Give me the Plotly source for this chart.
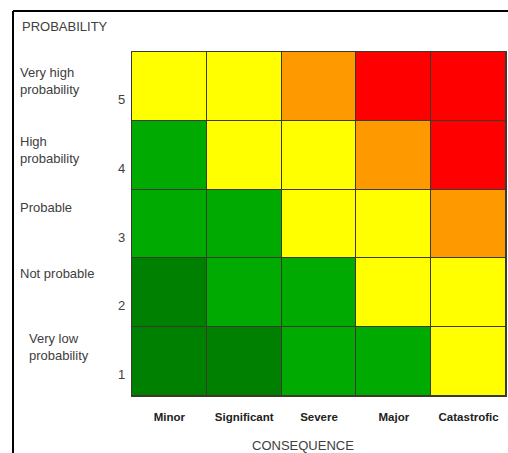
import plotly.graph_objects as go

consequences = ["Minor", "Significant", "Severe", "Major", "Catastrofic"]
probability_levels = [1, 2, 3, 4, 5]
probability_names = ["Very low<br>probability", "Not probable", "Probable",
                     "High<br>probability", "Very high<br>probability"]
# risk level per cell: 0 dark green, 1 green, 2 yellow, 3 orange, 4 red
# rows ordered from probability 1 (bottom) to 5 (top)
risk = [
    [0, 0, 1, 1, 2],
    [0, 1, 1, 2, 2],
    [1, 1, 2, 2, 3],
    [1, 2, 2, 3, 4],
    [2, 2, 3, 4, 4],
]
risk_colors = ["#008000", "#00AA00", "#FFFF00", "#FF9900", "#FF0000"]

n = len(risk_colors)
colorscale = []
for i, c in enumerate(risk_colors):
    colorscale.append([i / n, c])
    colorscale.append([(i + 1) / n, c])

W, H = 508, 453
L, T = 132, 52
R = W - 506
B = H - 396
pw, ph = W - L - R, H - T - B


def px_x(sx):
    return (sx - L) / pw


def px_y(sy):
    return 1 - (sy - T) / ph


fig = go.Figure(go.Heatmap(
    x=consequences, y=probability_levels, z=risk,
    zmin=-0.5, zmax=n - 0.5, colorscale=colorscale,
    showscale=False, xgap=1, ygap=1, hoverinfo="skip",
))

font = "Liberation Sans, Arial, sans-serif"
txt = "#404040"

ann = []
for lvl in probability_levels:
    ann.append(dict(x=px_x(127), xref="paper", y=lvl, yref="y", yshift=-13,
                    text=str(lvl), showarrow=False, xanchor="right",
                    font=dict(family=font, size=13, color=txt)))
name_x = [27, 18, 18, 18, 18]
name_shift = [15, 19, 17, 5, 5]
for lvl, name, nx, sh in zip(probability_levels, probability_names, name_x, name_shift):
    ann.append(dict(x=px_x(nx), xref="paper", y=lvl, yref="y", yshift=sh,
                    text=name, showarrow=False, xanchor="left", align="left",
                    font=dict(family=font, size=13, color=txt)))
ann.append(dict(x=px_x(20), xref="paper", y=px_y(26), yref="paper",
                text="PROBABILITY", showarrow=False, xanchor="left", yanchor="middle",
                font=dict(family=font, size=13, color=txt)))
ann.append(dict(x=px_x(303), xref="paper", y=px_y(445), yref="paper",
                text="CONSEQUENCE", showarrow=False, xanchor="center", yanchor="middle",
                font=dict(family=font, size=13, color=txt)))

frame = dict(color="black", width=2)
fig.update_layout(
    width=W, height=H,
    margin=dict(l=L, r=R, t=T, b=B, pad=0),
    paper_bgcolor="white", plot_bgcolor="#3a3a2e",
    annotations=ann,
    shapes=[
        dict(type="line", xref="paper", yref="paper",
             x0=px_x(13), x1=px_x(13), y0=px_y(470), y1=px_y(11), line=frame),
        dict(type="line", xref="paper", yref="paper",
             x0=px_x(13), x1=px_x(520), y0=px_y(11), y1=px_y(11), line=frame),
    ],
    xaxis=dict(showgrid=False, zeroline=False, ticks="", ticklabelstandoff=10,
               tickfont=dict(family="Liberation Sans Narrow, Arial Narrow, Liberation Sans",
                             size=11.5, color="#222", weight="bold"),
               showline=True, linecolor="#3a3a2e", mirror=True),
    yaxis=dict(range=[0.5, 5.5], showgrid=False, zeroline=False,
               showticklabels=False, showline=True, linecolor="#3a3a2e", mirror=True),
)

fig.write_html("out.html", config={"displayModeBar": False},
               post_script=("document.body.style.margin='0';"
                            "document.body.style.overflow='hidden';"
                            "document.documentElement.style.overflow='hidden';"))
